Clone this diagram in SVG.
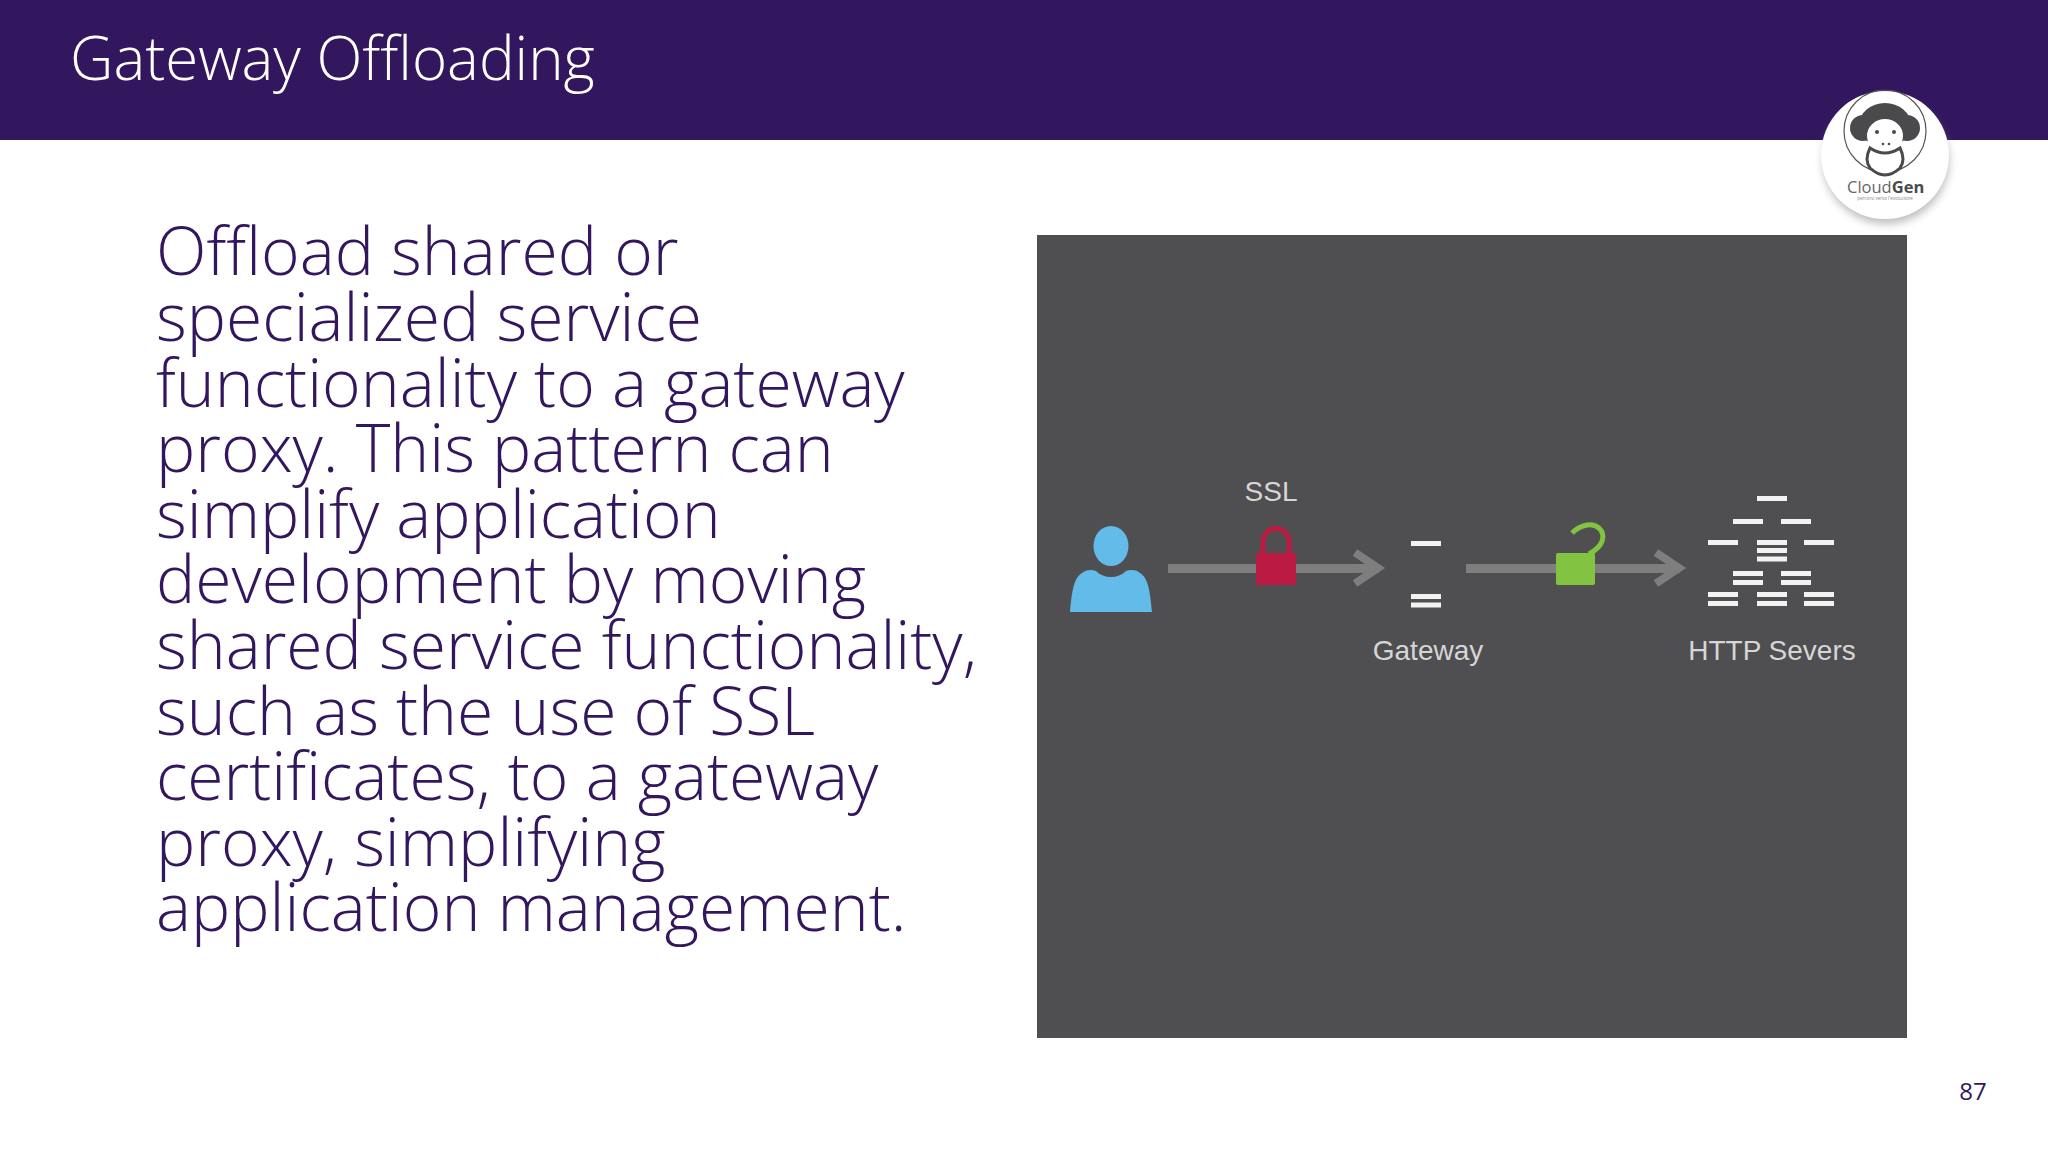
<svg xmlns="http://www.w3.org/2000/svg" width="2048" height="1152" viewBox="0 0 2048 1152">
<defs>
<filter id="sh" x="-30%" y="-30%" width="160%" height="160%"><feGaussianBlur stdDeviation="4"/></filter>
<filter id="soft" x="-10%" y="-30%" width="120%" height="160%"><feGaussianBlur stdDeviation="0.6"/></filter>
<marker id="chev" markerUnits="userSpaceOnUse" markerWidth="30" markerHeight="40" refX="25" refY="17" orient="auto" overflow="visible"><path d="M1 1L24 16.500L1 32" fill="none" stroke="#7f7e7f" stroke-width="8"/></marker>
</defs>
<style>
.body{font-family:"Open Sans","Noto Sans",sans-serif;font-weight:300;font-size:66px;fill:#32165e}
.lab{font-family:"Liberation Sans",Arial,sans-serif;font-size:28px;fill:#d6d6d6}
.bar{fill:#f2f2f2}
.conn{stroke:#7f7e7f;stroke-width:9;fill:none}
</style>
<rect width="2048" height="1152" fill="#fff"/>
<rect id="header" width="2048" height="140" fill="#32165e"/>
<text x="70" y="80" font-family="'Open Sans','Noto Sans',sans-serif" font-weight="300" font-size="60" fill="#fff">Gateway Offloading</text>
<g id="logo">
<circle cx="1886" cy="161" r="63" fill="#888" opacity=".55" filter="url(#sh)"/>
<circle cx="1885" cy="155" r="64" fill="#fff"/>
<circle cx="1885" cy="131" r="41" fill="none" stroke="#555" stroke-width="1.200"/>
<circle cx="1863" cy="128" r="13" fill="#4a4a4c"/><circle cx="1907" cy="128" r="13" fill="#4a4a4c"/>
<ellipse cx="1885" cy="125" rx="26" ry="22" fill="#4a4a4c"/>
<ellipse cx="1885" cy="136" rx="18" ry="17" fill="#fff"/>
<path d="M1868 130Q1885 118 1902 130L1902 150L1868 150Z" fill="#fff"/>
<circle cx="1877" cy="132" r="2" fill="#4a4a4c"/><circle cx="1894" cy="132" r="2" fill="#4a4a4c"/>
<circle cx="1883" cy="144" r="1.300" fill="#4a4a4c"/><circle cx="1889" cy="144" r="1.300" fill="#4a4a4c"/>
<path d="M1870 148Q1885 158 1900 148Q1906 160 1900 168Q1885 182 1870 168Q1864 160 1870 148Z" fill="#fff" stroke="#4a4a4c" stroke-width="3"/>
<text x="1847" y="193" font-family="'Open Sans',sans-serif" font-size="16.500" fill="#666">Cloud<tspan font-weight="700" fill="#4a4a4c">Gen</tspan></text>
<text x="1885" y="200" text-anchor="middle" font-family="'Open Sans',sans-serif" font-size="4.500" fill="#888">percorsi verso l'evoluzione</text>
</g>
<g id="body-text" class="body">
<text x="156" y="275">Offload shared or</text>
<text x="156" y="341">specialized service</text>
<text x="156" y="406.500">functionality to a gateway</text>
<text x="156" y="472">proxy. This pattern can</text>
<text x="156" y="537.500">simplify application</text>
<text x="156" y="603">development by moving</text>
<text x="156" y="668.500">shared service functionality,</text>
<text x="156" y="734.500">such as the use of SSL</text>
<text x="156" y="800">certificates, to a gateway</text>
<text x="156" y="865.500">proxy, simplifying</text>
<text x="156" y="931">application management.</text>
</g>
<rect id="panel" x="1037" y="235" width="870" height="803" fill="#4f4e50"/>
<g id="connectors">
<path class="conn" d="M1168 568.500H1379" marker-end="url(#chev)"/>
<path class="conn" d="M1466 568.500H1680" marker-end="url(#chev)"/>
</g>
<g id="user">
<ellipse cx="1111" cy="546" rx="17.500" ry="20" fill="#63bbea"/>
<path d="M1070 612C1072 590 1074 578 1082 573C1088 569 1092 570 1096 571C1104 579 1118 579 1126 571C1130 570 1135 569 1140 573C1148 578 1150 590 1152 612Z" fill="#63bbea"/>
</g>
<g id="ssl-lock">
<path d="M1263 556V542A13 13.500 0 0 1 1289 542V556" fill="none" stroke="#bb1b43" stroke-width="5"/>
<rect x="1256" y="553" width="40" height="32" rx="1" fill="#bb1b43"/>
<text class="lab" x="1271" y="501" text-anchor="middle" font-size="28">SSL</text>
</g>
<g id="gateway">
<rect class="bar" x="1411" y="541" width="30" height="5"/>
<rect class="bar" x="1411" y="594" width="30" height="5"/>
<rect class="bar" x="1411" y="602.500" width="30" height="5"/>
<text class="lab" x="1428" y="660" text-anchor="middle">Gateway</text>
</g>
<g id="open-lock">
<path d="M1572 533C1580 525 1592 522 1599 528C1606 535 1604 546 1589 554" fill="none" stroke="#82c341" stroke-width="5"/>
<rect x="1556" y="553" width="39" height="32" rx="2" fill="#82c341"/>
</g>
<g id="http-servers">
<rect class="bar" x="1757" y="496" width="30" height="5"/>
<rect class="bar" x="1733" y="519" width="30" height="5"/><rect class="bar" x="1781" y="519" width="30" height="5"/>
<rect class="bar" x="1708" y="540" width="30" height="5"/><rect class="bar" x="1757" y="540" width="30" height="5"/><rect class="bar" x="1804" y="540" width="30" height="5"/>
<rect class="bar" x="1757" y="548" width="30" height="5"/><rect class="bar" x="1757" y="556.500" width="30" height="5"/>
<rect class="bar" x="1733" y="571" width="30" height="5"/><rect class="bar" x="1781" y="571" width="30" height="5"/>
<rect class="bar" x="1733" y="580" width="30" height="5"/><rect class="bar" x="1781" y="580" width="30" height="5"/>
<rect class="bar" x="1708" y="592" width="30" height="5"/><rect class="bar" x="1757" y="592" width="30" height="5"/><rect class="bar" x="1804" y="592" width="30" height="5"/>
<rect class="bar" x="1708" y="601" width="30" height="5"/><rect class="bar" x="1757" y="601" width="30" height="5"/><rect class="bar" x="1804" y="601" width="30" height="5"/>
<text class="lab" x="1772" y="660" text-anchor="middle">HTTP Severs</text>
</g>
<text x="1973" y="1100" text-anchor="middle" font-family="'Open Sans',sans-serif" font-size="24" fill="#32165e">87</text>
</svg>
